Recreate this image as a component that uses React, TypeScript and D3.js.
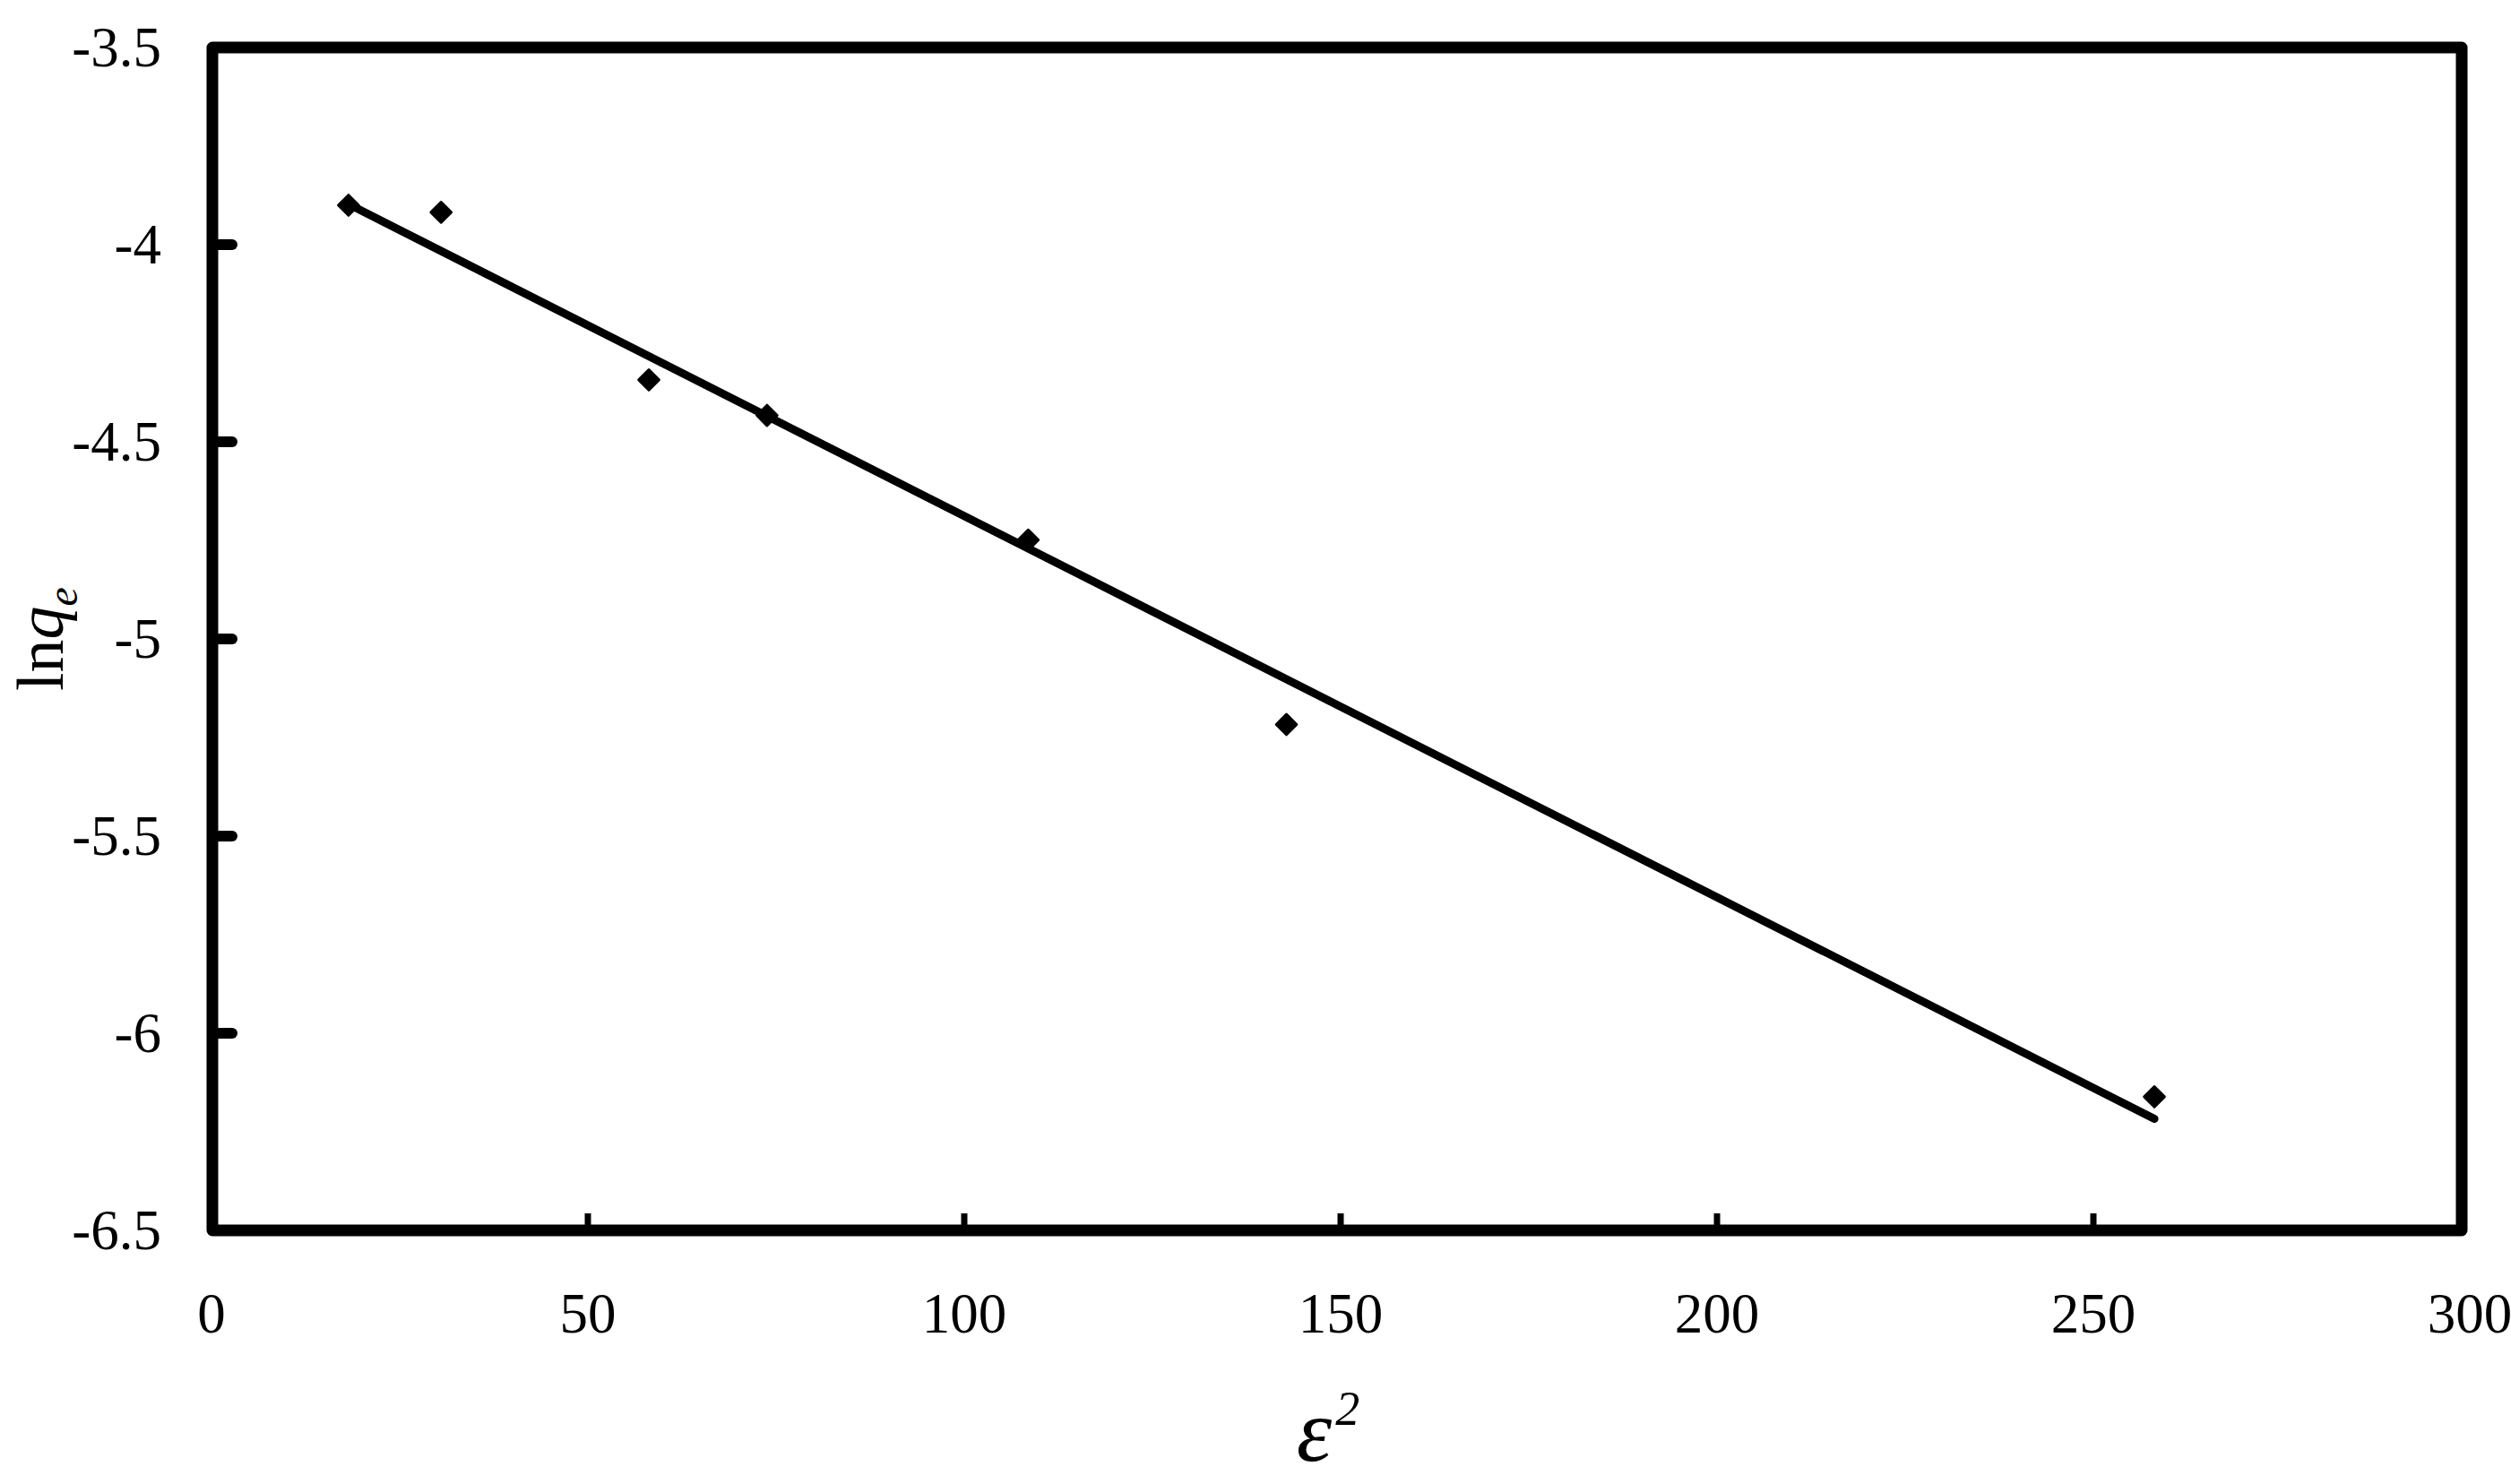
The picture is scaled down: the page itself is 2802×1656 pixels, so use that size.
import React, { useEffect } from "react";
import * as d3 from "d3";

// ---- data ----
const epsSquared = [18.2, 30.5, 58.1, 73.8, 108.5, 142.8, 258.1];
const lnQe = [-3.9, -3.918, -4.343, -4.433, -4.749, -5.217, -6.161];
const xTicks = [0, 50, 100, 150, 200, 250, 300];
const yTicks = [-3.5, -4, -4.5, -5, -5.5, -6, -6.5];

// ---- layout ----
const W = 2802;
const H = 1656;
const frame = { left: 237, right: 2747, top: 53, bottom: 1373 };
const FONT = "'Liberation Serif', 'Times New Roman', serif";

export default function App() {
  useEffect(() => {
    document.body.style.margin = "0";
  }, []);

  const x = d3.scaleLinear().domain([0, 300]).range([236, 2756]);
  const y = d3.scaleLinear().domain([-3.5, -6.5]).range([frame.top, frame.bottom]);

  // least-squares trendline through the data
  const pts = epsSquared.map((v, i) => [v, lnQe[i]] as [number, number]);
  const mx = d3.mean(epsSquared) as number;
  const my = d3.mean(lnQe) as number;
  const sxy = d3.sum(pts, (p) => (p[0] - mx) * (p[1] - my));
  const sxx = d3.sum(pts, (p) => (p[0] - mx) ** 2);
  const slope = sxy / sxx;
  const icpt = my - slope * mx;
  const [x0, x1] = d3.extent(epsSquared) as [number, number];
  const lineGen = d3
    .line<[number, number]>()
    .x((d) => x(d[0]))
    .y((d) => y(d[1]));
  const trend = lineGen([
    [x0, icpt + slope * x0],
    [x1, icpt + slope * x1],
  ]);

  const marker = d3.symbol(d3.symbolSquare, 256)();

  return (
    <svg width={W} height={H} style={{ display: "block", background: "#fff" }}>
      <rect x={0} y={0} width={W} height={H} fill="#fff" />

      {/* trendline */}
      <path d={trend ?? ""} fill="none" stroke="#000" strokeWidth={9} strokeLinecap="round" />

      {/* markers */}
      {pts.map((p, i) => (
        <path
          key={i}
          d={marker ?? ""}
          transform={`translate(${x(p[0])},${y(p[1])}) rotate(45)`}
          fill="#000"
          stroke="#000"
          strokeWidth={3}
          strokeLinejoin="round"
        />
      ))}

      {/* y ticks (inside) */}
      {yTicks
        .filter((t) => t !== -3.5 && t !== -6.5)
        .map((t) => (
          <line
            key={t}
            x1={frame.left + 6}
            x2={frame.left + 22}
            y1={y(t)}
            y2={y(t)}
            stroke="#000"
            strokeWidth={12}
            strokeLinecap="round"
          />
        ))}

      {/* x ticks (inside) */}
      {xTicks
        .filter((t) => t !== 0 && t !== 300)
        .map((t) => (
          <line
            key={t}
            x1={x(t)}
            x2={x(t)}
            y1={frame.bottom}
            y2={frame.bottom - 19}
            stroke="#000"
            strokeWidth={7}
          />
        ))}

      {/* frame */}
      <rect
        x={frame.left}
        y={frame.top}
        width={frame.right - frame.left}
        height={frame.bottom - frame.top}
        fill="none"
        stroke="#000"
        strokeWidth={13}
        strokeLinejoin="round"
      />

      {/* y tick labels */}
      {yTicks.map((t) => (
        <text
          key={t}
          x={180}
          y={y(t) + 21}
          textAnchor="end"
          fontFamily={FONT}
          fontSize={63}
          fill="#000"
        >
          {String(t)}
        </text>
      ))}

      {/* x tick labels */}
      {xTicks.map((t) => (
        <text
          key={t}
          x={x(t)}
          y={1487}
          textAnchor="middle"
          fontFamily={FONT}
          fontSize={63}
          fill="#000"
        >
          {String(t)}
        </text>
      ))}

      {/* x axis title */}
      <text x={1482} y={1630} textAnchor="middle" fontFamily={FONT} fill="#000">
        <tspan fontSize={100} fontStyle="italic">ε</tspan>
        <tspan fontSize={54} fontStyle="italic" dy={-40} dx={4}>2</tspan>
      </text>

      {/* y axis title */}
      <text
        transform={`translate(70,${(frame.top + frame.bottom) / 2}) rotate(-90)`}
        textAnchor="middle"
        fontFamily={FONT}
        fontSize={74}
        fill="#000"
      >
        <tspan>ln</tspan>
        <tspan fontStyle="italic">q</tspan>
        <tspan fontStyle="italic" fontSize={48} dy={16}>e</tspan>
      </text>
    </svg>
  );
}
